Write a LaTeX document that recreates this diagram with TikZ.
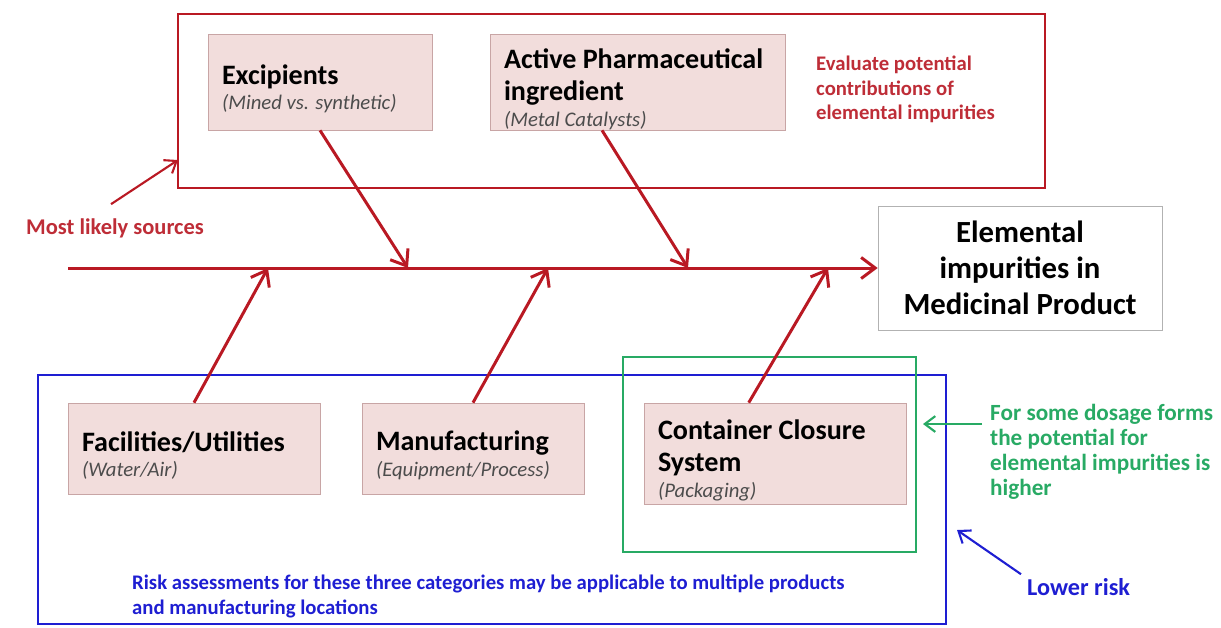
\documentclass[tikz,border=0pt]{standalone}
\usepackage{fontspec}
\setmainfont{Carlito}
\usetikzlibrary{arrows.meta,calc,positioning}

\definecolor{spinered}{RGB}{185,25,35}
\definecolor{notered}{RGB}{190,45,55}
\definecolor{causefill}{RGB}{242,221,220}
\definecolor{causeline}{RGB}{200,165,165}
\definecolor{riskblue}{RGB}{30,30,210}
\definecolor{dosegreen}{RGB}{40,170,100}

\tikzset{
  cause/.style={draw=causeline,fill=causefill,rectangle,align=left,
    inner xsep=0.28cm,inner ysep=0pt,font=\fontsize{16}{18.5}\selectfont\bfseries,
    execute at begin node={\spaceskip=0pt\xspaceskip=0pt\rule{0pt}{19pt}}},
  effect/.style={draw=gray!60,fill=white,rectangle,align=center,
    font=\fontsize{17.5}{20.5}\selectfont\bfseries},
  frame/.style={draw=#1,line width=1.4pt,rectangle,fill=none},
  note/.style={align=left,font=\fontsize{11.8}{13.9}\selectfont\bfseries,
    execute at begin node={\spaceskip=0pt\xspaceskip=0pt}},
  bone/.style={draw=spinered,line width=1.7pt,-{Straight Barb[length=8pt,width=12pt]}},
  pointer/.style={draw=#1,line width=1.2pt,-{Straight Barb[length=6pt,width=9pt]}},
}
\newcommand{\sub}[1]{\\[-4pt]{\fontsize{11.8}{14}\selectfont\mdseries\itshape\color{black!70}#1}}

\begin{document}
\begin{tikzpicture}[x=0.02cm,y=-0.02cm]
  \useasboundingbox (0,0) rectangle (1221,627);

  % frames
  \node[frame=spinered,minimum width=17.34cm,minimum height=3.48cm] (srcframe) at (611.5,101) {};
  \node[frame=riskblue,minimum width=18.16cm,minimum height=4.98cm] (lowframe) at (492,499.5) {};
  \node[frame=dosegreen,minimum width=5.86cm,minimum height=3.9cm] (doseframe) at (769.5,454.5) {};

  % causes
  \node[cause,text width=3.92cm,minimum height=1.92cm] (excip) at (320,82)
    {Excipients\sub{(Mined vs. synthetic)}};
  \node[cause,text width=5.34cm,minimum height=1.92cm] (api) at (637.5,82)
    {Active Pharmaceutical\\ingredient\sub{(Metal Catalysts)}};
  \node[cause,text width=4.48cm,minimum height=1.82cm] (facil) at (194,448.5)
    {Facilities/Utilities\sub{(Water/Air)}};
  \node[cause,text width=3.88cm,minimum height=1.82cm] (manuf) at (473,448.5)
    {Manufacturing\sub{(Equipment/Process)}};
  \node[cause,text width=4.68cm,minimum height=2.02cm] (closure) at (775,453.5)
    {Container Closure\\System\sub{(Packaging)}};

  % effect
  \node[effect,minimum width=5.68cm,minimum height=2.48cm] (impur) at (1020,268)
    {Elemental\\impurities in\\Medicinal Product};

  % spine
  \coordinate (tail) at (68,268);
  \coordinate (j1) at (408,268);
  \coordinate (j2) at (688,268);
  \coordinate (j3) at (268,268);
  \coordinate (j4) at (548,268);
  \coordinate (j5) at (828,268);
  \draw[bone] (tail) -- (impur.west);
  \draw[bone] (excip.south) -- (j1);
  \draw[bone] ($(api.south west)!0.38!(api.south east)$) -- (j2);
  \draw[bone] (facil.north) -- (j3);
  \draw[bone] (manuf.north) -- (j4);
  \draw[bone] ($(closure.north west)!0.4!(closure.north east)$) -- (j5);

  % notes
  \node[note,text=notered,anchor=north west] (evaluate) at (810,50)
    {Evaluate potential\\contributions of\\elemental impurities};
  \node[note,text=notered,anchor=west,font=\fontsize{12.8}{15}\selectfont\bfseries] (likely) at (20,228)
    {Most likely sources};
  \coordinate (srchit) at (178,160);
  \draw[pointer=spinered] ($(likely.north)+(-4,-8)$) -- (srchit);

  \node[note,text=dosegreen,anchor=north west,font=\fontsize{13.2}{14.2}\selectfont\bfseries] (dosage) at (984,398)
    {For some dosage forms\\the potential for\\elemental impurities is\\higher};
  \coordinate (dosehit) at (923,424);
  \draw[pointer=dosegreen] ($(dosage.north west)+(-2,26)$) -- (dosehit);

  \node[note,text=riskblue,anchor=north west] (assess) at (126,569)
    {Risk assessments for these three categories may be applicable to multiple products\\and manufacturing locations};
  \node[note,text=riskblue,anchor=west,font=\fontsize{13.8}{16}\selectfont\bfseries] (lower) at (1021,587)
    {Lower risk};
  \coordinate (lowhit) at (957,530);
  \draw[pointer=riskblue] ($(lower.north west)+(0,2)$) -- (lowhit);
\end{tikzpicture}
\end{document}
